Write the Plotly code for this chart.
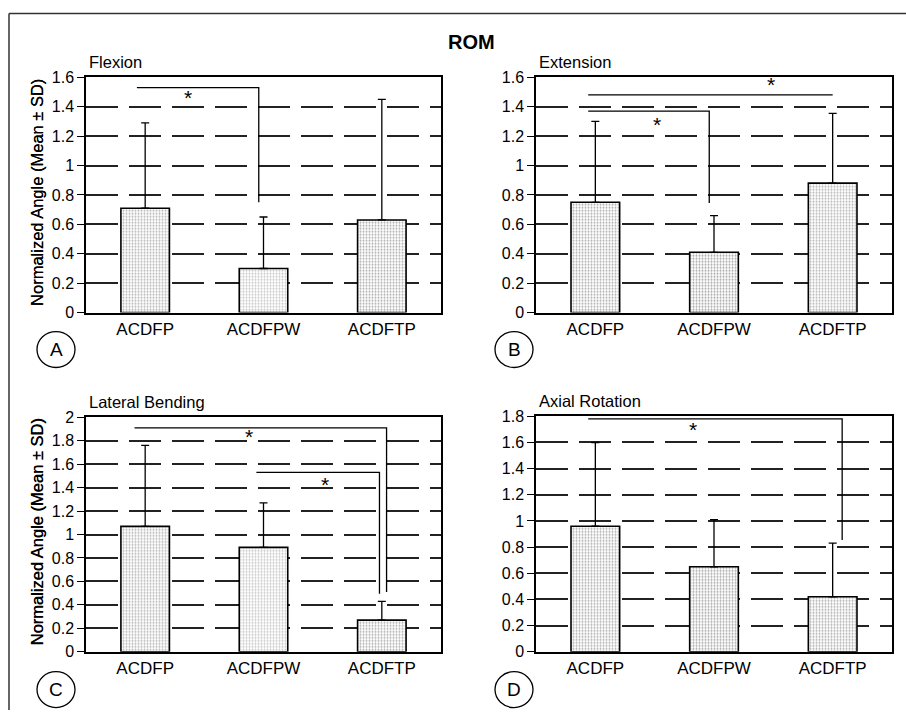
import plotly.graph_objects as go

W, H = 906, 719

categories = ["ACDFP", "ACDFPW", "ACDFTP"]

panel_titles = ["Flexion", "Extension", "Lateral Bending", "Axial Rotation"]
panel_letters = ["A", "B", "C", "D"]

flexion_mean = [0.71, 0.30, 0.63]
flexion_sd = [0.58, 0.35, 0.82]
extension_mean = [0.75, 0.41, 0.88]
extension_sd = [0.55, 0.25, 0.475]
lateral_mean = [1.07, 0.89, 0.27]
lateral_sd = [0.69, 0.38, 0.16]
axial_mean = [0.96, 0.65, 0.42]
axial_sd = [0.64, 0.36, 0.41]

y_max = [1.6, 1.6, 2.0, 1.8]
y_step = 0.2

# significance brackets: (x_start, x_end, y_level, y_drop or None, star_x, star_y)
flexion_sig = [(-0.07, 0.96, 1.53, 0.75, 0.36, 1.46)]
extension_sig = [(-0.06, 2.0, 1.48, None, 1.48, 1.55),
                 (-0.06, 0.96, 1.37, 0.745, 0.52, 1.28)]
lateral_sig = [(-0.09, 2.04, 1.91, 0.51, 0.88, 1.84),
               (0.94, 1.98, 1.53, 0.495, 1.52, 1.43)]
axial_sig = [(-0.06, 2.08, 1.78, 0.854, 0.82, 1.70)]

means = [flexion_mean, extension_mean, lateral_mean, axial_mean]
sds = [flexion_sd, extension_sd, lateral_sd, axial_sd]
sigs = [flexion_sig, extension_sig, lateral_sig, axial_sig]

# bar shading per panel
pattern_fg = [["#666", "#888", "#555"],
              ["#555", "#444", "#666"],
              ["#666", "#888", "#555"],
              ["#555", "#444", "#555"]]

# layout geometry in pixels (left, right, top, bottom)
boxes = [(86, 441, 77, 313), (536, 892, 77, 313),
         (86, 441, 418, 653), (536, 892, 417, 653)]
letter_pos = [(56, 350), (514, 350), (56, 691), (514, 691)]

# vertical pixel -> paper (slightly stretched about the centre to match target)
VS = 1.0215


def py(y):
    yy = H / 2 + (y - H / 2) * VS
    return 1 - yy / H


FONT = "Liberation Sans, Arial, sans-serif"

fig = go.Figure()
annotations = []
layout_axes = {}

for i in range(4):
    xa = "x" if i == 0 else f"x{i+1}"
    ya = "y" if i == 0 else f"y{i+1}"
    xkey = "xaxis" if i == 0 else f"xaxis{i+1}"
    ykey = "yaxis" if i == 0 else f"yaxis{i+1}"
    l, r, t, b = boxes[i]
    xs = list(range(len(categories)))
    fig.add_trace(go.Bar(
        x=xs, y=means[i], width=0.41,
        marker=dict(color="white",
                    line=dict(color="black", width=1.6),
                    pattern=dict(shape=".", fgcolor=pattern_fg[i], bgcolor="white",
                                 size=3, solidity=0.35)),
        error_y=dict(type="data", symmetric=False, array=sds[i],
                     arrayminus=[0] * len(sds[i]), color="black",
                     thickness=1.3, width=4),
        xaxis=xa, yaxis=ya, showlegend=False, hoverinfo="skip"))
    for (x0, x1, yl, yd, sx, sy) in sigs[i]:
        lx = [x0, x1]
        ly = [yl, yl]
        if yd is not None:
            lx.append(x1)
            ly.append(yd)
        fig.add_trace(go.Scatter(x=lx, y=ly, mode="lines",
                                 line=dict(color="black", width=1.3),
                                 xaxis=xa, yaxis=ya, showlegend=False,
                                 hoverinfo="skip"))
        annotations.append(dict(x=sx, y=sy, xref=xa, yref=ya, text="*",
                                showarrow=False, font=dict(size=21, color="black",
                                                           family=FONT),
                                yanchor="middle"))
    nticks = int(round(y_max[i] / y_step))
    tickvals = [round(k * y_step, 1) for k in range(nticks + 1)]
    ticktext = [("%g" % v) for v in tickvals]
    layout_axes[xkey] = dict(domain=[l / W, r / W], range=[-0.5, 2.5],
                             tickvals=xs, ticktext=categories, showgrid=False,
                             zeroline=False, showline=True, mirror=True,
                             linecolor="black", linewidth=1.5, ticks="",
                             tickfont=dict(size=17, color="black", family=FONT),
                             anchor=ya, fixedrange=True)
    layout_axes[ykey] = dict(domain=[py(b), py(t)], range=[0, y_max[i]],
                             tickvals=tickvals, ticktext=ticktext,
                             showgrid=True, gridcolor="#222", gridwidth=1.5,
                             griddash="32px,11px", zeroline=False, showline=True,
                             mirror=True, linecolor="black", linewidth=1.5,
                             ticks="outside", ticklen=7, tickcolor="black",
                             tickwidth=1.2,
                             tickfont=dict(size=16, color="black", family=FONT),
                             anchor=xa, fixedrange=True)
    # y title
    annotations.append(dict(x=37 / W, y=py((t + b) / 2 - 2), xref="paper",
                            yref="paper", text="Normalized Angle (Mean ± SD)",
                            textangle=-90, showarrow=False,
                            font=dict(size=16.5, color="black", family=FONT),
                            xanchor="center", yanchor="middle"))
    # panel title
    annotations.append(dict(x=(l + 1) / W, y=py(t - 15), xref="paper",
                            yref="paper", text=panel_titles[i], showarrow=False,
                            font=dict(size=16.5, color="black", family=FONT),
                            xanchor="left", yanchor="middle"))
    # circled letter
    cx, cy = letter_pos[i]
    annotations.append(dict(x=cx / W, y=py(cy), xref="paper", yref="paper",
                            text=panel_letters[i], showarrow=False,
                            font=dict(size=19, color="black", family=FONT),
                            xanchor="center", yanchor="middle"))

shapes = []
for (cx, cy) in letter_pos:
    shapes.append(dict(type="circle", xref="paper", yref="paper",
                       x0=(cx - 19) / W, x1=(cx + 19) / W,
                       y0=py(cy + 18), y1=py(cy - 18),
                       line=dict(color="black", width=1.3)))
# outer frame (left and top edges)
shapes.append(dict(type="line", xref="paper", yref="paper", x0=9 / W, x1=9 / W,
                   y0=0, y1=py(13), line=dict(color="#333", width=1.5)))
shapes.append(dict(type="line", xref="paper", yref="paper", x0=9 / W, x1=1,
                   y0=py(13), y1=py(13), line=dict(color="#333", width=1.5)))

annotations.append(dict(x=471 / W, y=py(42), xref="paper", yref="paper",
                        text="<b>ROM</b>", showarrow=False,
                        font=dict(size=20, color="black", family=FONT),
                        xanchor="center", yanchor="middle"))

fig.update_layout(width=W, height=H, margin=dict(l=0, r=0, t=0, b=0),
                  paper_bgcolor="white", plot_bgcolor="white",
                  annotations=annotations, shapes=shapes, bargap=0.5,
                  **layout_axes)

post = ("document.documentElement.style.margin='0';"
        "document.documentElement.style.overflow='hidden';"
        "document.body.style.margin='0';document.body.style.padding='0';"
        "document.body.style.overflow='hidden';"
        "var gd=document.getElementById('{plot_id}');"
        "gd.style.position='absolute';gd.style.left='0px';gd.style.top='0px';")
fig.write_html("out.html", post_script=post,
               config={"displayModeBar": False, "responsive": False})
